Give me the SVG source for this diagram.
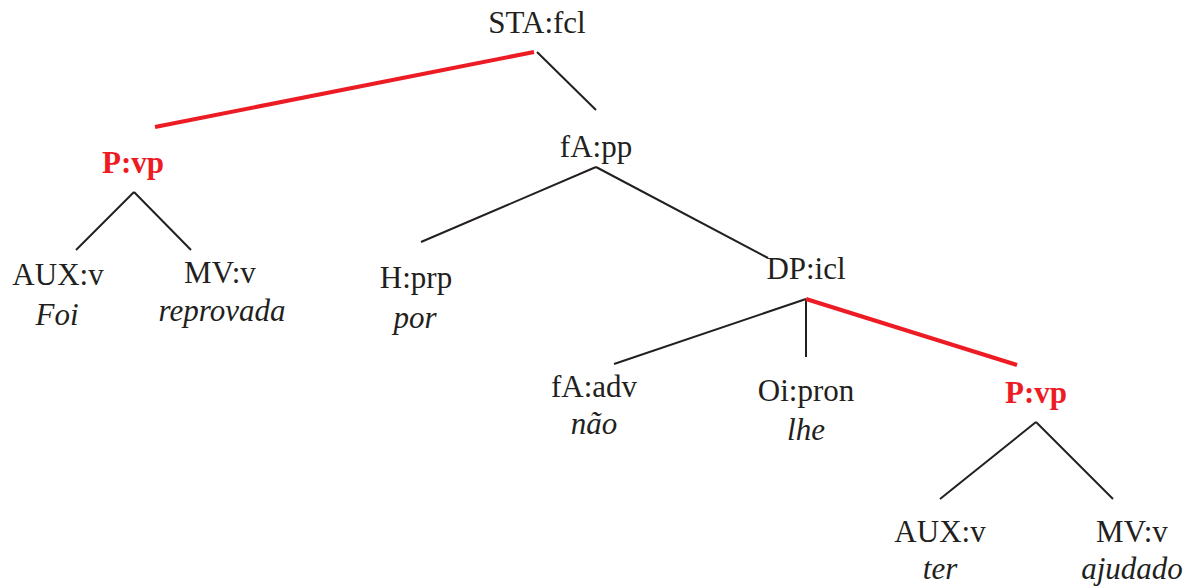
<svg xmlns="http://www.w3.org/2000/svg" width="1194" height="587" viewBox="0 0 1194 587">
<style>
text{font-family:'Liberation Serif',Tinos,'Times New Roman',Times,serif;font-size:31px;fill:#231f20;text-anchor:middle}
.w{font-style:italic}
.r{fill:#ed1c24;font-weight:bold}
.e{stroke:#231f20;stroke-width:2;fill:none}
.re{stroke:#ed1c24;stroke-width:4;fill:none}
</style>
<rect width="1194" height="587" fill="#fff"/>
<g id="connectors">
<line class="re" x1="534" y1="52" x2="155" y2="127"/>
<line class="e" x1="537" y1="52" x2="596" y2="110"/>
<line class="e" x1="134" y1="192" x2="76" y2="250"/>
<line class="e" x1="134" y1="192" x2="191" y2="250"/>
<line class="e" x1="596" y1="167" x2="421" y2="242"/>
<line class="e" x1="596" y1="167" x2="768" y2="258"/>
<line class="e" x1="806" y1="299" x2="614" y2="364"/>
<line class="e" x1="806" y1="299" x2="806" y2="357"/>
<line class="re" x1="806" y1="299" x2="1017" y2="365"/>
<line class="e" x1="1036" y1="422" x2="940" y2="499"/>
<line class="e" x1="1036" y1="422" x2="1113" y2="499"/>
</g>
<g id="n-sta"><text x="537" y="33">STA:fcl</text></g>
<g id="n-pvp1"><text class="r" x="133" y="173">P:vp</text></g>
<g id="n-aux1"><text x="58" y="285">AUX:v</text><text class="w" x="57" y="325">Foi</text></g>
<g id="n-mv1"><text x="220" y="283">MV:v</text><text class="w" x="222" y="321">reprovada</text></g>
<g id="n-fapp"><text x="596" y="157">fA:pp</text></g>
<g id="n-hprp"><text x="416" y="288">H:prp</text><text class="w" x="415" y="328">por</text></g>
<g id="n-dpicl"><text x="806" y="279">DP:icl</text></g>
<g id="n-faadv"><text x="594" y="397">fA:adv</text><text class="w" x="594" y="434">não</text></g>
<g id="n-oipron"><text x="806" y="401">Oi:pron</text><text class="w" x="806" y="440">lhe</text></g>
<g id="n-pvp2"><text class="r" x="1036" y="403">P:vp</text></g>
<g id="n-aux2"><text x="940" y="542">AUX:v</text><text class="w" x="940" y="579">ter</text></g>
<g id="n-mv2"><text x="1132" y="542">MV:v</text><text class="w" x="1132" y="579">ajudado</text></g>
</svg>
